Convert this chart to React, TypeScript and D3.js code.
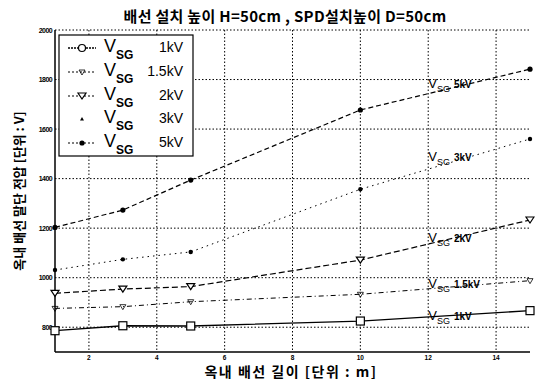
import React from "react";
import * as d3 from "d3";

const xValues = [1, 3, 5, 10, 15];
const seriesNames = ["1kV", "1.5kV", "2kV", "3kV", "5kV"];
const v1kV = [786, 806, 805, 825, 867];
const v15kV = [876, 883, 903, 933, 988];
const v2kV = [937, 954, 964, 1071, 1233];
const v3kV = [1031, 1074, 1104, 1357, 1560];
const v5kV = [1203, 1273, 1394, 1677, 1842];
const labelValues = [829, 958, 1144, 1471, 1766];
const labelX = 12;
const xTicks = [2, 4, 6, 8, 10, 12, 14];
const yTicks = [800, 1000, 1200, 1400, 1600, 1800, 2000];
const title = "배선 설치 높이 H=50cm , SPD설치높이 D=50cm";
const xLabel = "옥내 배선 길이 [단위 : m]";
const yLabel = "옥내 배선 말단 전압 [단위 : V]";

const allSeries = [v1kV, v15kV, v2kV, v3kV, v5kV];
const dashes = ["", "5,3,1,3", "6,3", "1.5,4", "5,3"];
const widths = [1.3, 1, 1.2, 1, 1.2];
const markers = ["square", "vsmall", "tridown", "dot", "fdot"];

const W = 535;
const H = 383;

function Marker({ type, x, y, legend }: { type: string; x: number; y: number; legend?: boolean }) {
  if (type === "square") {
    if (legend) return <circle cx={x} cy={y} r={3.5} fill="white" stroke="black" strokeWidth={1.2} />;
    return <rect x={x - 4} y={y - 4} width={8} height={8} fill="white" stroke="black" strokeWidth={1.2} />;
  }
  if (type === "vsmall") {
    return <path d={`M${x - 3},${y - 2} L${x + 3},${y - 2} L${x},${y + 3} Z`} fill="none" stroke="black" strokeWidth={0.8} />;
  }
  if (type === "tridown") {
    return <path d={`M${x - 4},${y - 3} L${x + 4},${y - 3} L${x},${y + 3} Z`} fill="white" stroke="black" strokeWidth={1.2} />;
  }
  if (type === "dot") {
    return legend ? (
      <path d={`M${x - 2},${y + 1.5} L${x + 2},${y + 1.5} L${x},${y - 2} Z`} fill="black" stroke="none" />
    ) : (
      <circle cx={x} cy={y} r={2.2} fill="black" />
    );
  }
  return <circle cx={x} cy={y} r={2.6} fill="black" />;
}

export default function App() {
  const x = d3.scaleLinear().domain([1, 15]).range([55, 530]);
  const y = d3.scaleLinear().domain([700, 2000]).range([352, 30]);
  const line = d3
    .line<number>()
    .x((_, i) => x(xValues[i]))
    .y((d) => y(d));

  const font = "'Liberation Sans', Arial, sans-serif";
  const kfont = "'Noto Sans CJK KR', 'Liberation Sans', sans-serif";

  const legendRows = [48, 72, 96, 119, 143];

  return (
    <svg width={W} height={H} style={{ position: "absolute", left: 0, top: 0, background: "white" }}>
      <rect width={W} height={H} fill="white" />
      {/* grid */}
      {xTicks.map((t) => (
        <line key={"gx" + t} x1={x(t)} x2={x(t)} y1={y(2000)} y2={y(700)} stroke="black" strokeWidth={1} strokeDasharray="1.5,2" />
      ))}
      {yTicks.map((t) => (
        <line key={"gy" + t} x1={x(1)} x2={x(15)} y1={y(t)} y2={y(t)} stroke="black" strokeWidth={1} strokeDasharray="1.5,2" />
      ))}
      {/* axes */}
      <line x1={x(1)} x2={x(1)} y1={y(2000)} y2={y(700)} stroke="black" strokeWidth={1.5} />
      <line x1={x(1)} x2={x(15)} y1={y(700)} y2={y(700)} stroke="black" strokeWidth={1.5} />
      {yTicks.map((t) => (
        <text key={"ty" + t} x={x(1) - 3} y={y(t) + 2.5} fontSize={7} fontWeight="bold" textAnchor="end" fontFamily={font} letterSpacing={-0.6}>
          {t}
        </text>
      ))}
      {xTicks.map((t) => (
        <text key={"tx" + t} x={x(t)} y={y(700) + 7.5} fontSize={6.5} fontWeight="bold" textAnchor="middle" fontFamily={font}>
          {t}
        </text>
      ))}
      {/* series */}
      {allSeries.map((s, k) => (
        <g key={"s" + k}>
          <path d={line(s) || ""} fill="none" stroke="black" strokeWidth={widths[k]} strokeDasharray={dashes[k]} />
          {s.map((v, i) => (
            <Marker key={i} type={markers[k]} x={x(xValues[i])} y={y(v)} />
          ))}
        </g>
      ))}
      {/* inline labels */}
      {labelValues.map((v, k) => (
        <text key={"lab" + k} x={x(labelX)} y={y(v)} fontFamily={font} fill="black">
          <tspan fontSize={13}>V</tspan>
          <tspan fontSize={9} dy={4}>SG</tspan>
          <tspan fontSize={10} dy={-4} dx={4} fontWeight="bold">{seriesNames[k]}</tspan>
        </text>
      ))}
      {/* legend */}
      <rect x={59} y={35} width={134} height={121} fill="white" stroke="black" strokeWidth={1.2} />
      {seriesNames.map((n, k) => (
        <g key={"lg" + k}>
          <line x1={68} x2={96} y1={legendRows[k]} y2={legendRows[k]} stroke="black" strokeWidth={widths[k]} strokeDasharray={k === 3 ? "0,30" : k === 0 ? "2,1" : "2,2"} />
          <Marker type={markers[k]} x={82} y={legendRows[k]} legend />
          <text x={104} y={legendRows[k] + 4} fontFamily={font} fontSize={18}>V</text>
          <text x={116} y={legendRows[k] + 11} fontFamily={font} fontSize={12} fontWeight="bold">SG</text>
          <text x={183} y={legendRows[k] + 4} fontFamily={font} fontSize={14} textAnchor="end">{n}</text>
        </g>
      ))}
      {/* titles */}
      <text x={285} y={22} textAnchor="middle" fontFamily={kfont} fontSize={15} fontWeight="bold" letterSpacing={0.3}>{title}</text>
      <text x={291} y={377} textAnchor="middle" fontFamily={kfont} fontSize={14} fontWeight="bold" letterSpacing={1.5}>{xLabel}</text>
      <text transform={`translate(24,${(y(2000) + y(700)) / 2}) rotate(-90)`} textAnchor="middle" fontFamily={kfont} fontSize={13} fontWeight="bold">
        {yLabel}
      </text>
    </svg>
  );
}
